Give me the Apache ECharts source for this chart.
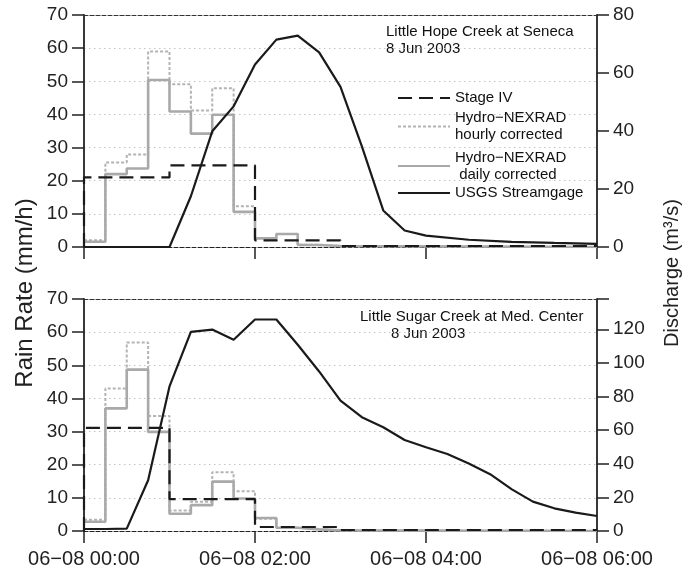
<!DOCTYPE html>
<html>
<head>
<meta charset="utf-8">
<script src="https://cdn.jsdelivr.net/npm/echarts@6/dist/echarts.min.js"></script>
<style>
html,body{margin:0;padding:0;background:#fff;}
#chart{width:688px;height:571px;}
</style>
</head>
<body>
<div id="chart"></div>
<script>
// ---------- data ----------
const xTickLabels = ['06\u221208 00:00', '06\u221208 02:00', '06\u221208 04:00', '06\u221208 06:00'];

// 15-minute Hydro-NEXRAD bins (value holds until next time)
const hydroTimes = ['00:00','00:15','00:30','00:45','01:00','01:15','01:30','01:45','02:00','02:15','02:30','02:45','03:00','06:00'];
const hourlyTop = [2.0, 25.5, 27.9, 59.0, 49.1, 41.2, 47.9, 12.3, 2.7, 3.9, 0.7, 0.3, 0, 0];
const dailyTop  = [1.6, 22.0, 23.7, 50.4, 40.9, 34.2, 39.9, 10.6, 2.6, 3.9, 0.6, 0.3, 0, 0];
const hourlyBot = [3.4, 43.0, 56.9, 34.7, 6.2, 8.8, 17.7, 12.0, 3.7, 1.0, 0.5, 0.2, 0, 0];
const dailyBot  = [2.8, 37.0, 48.7, 29.9, 5.2, 7.8, 14.9, 9.8, 3.9, 1.0, 0.5, 0.2, 0, 0];

// hourly Stage IV
const stageTimes = ['00:00','00:00','01:00','02:00','03:00','06:00'];
const stageTop = [0, 21.0, 24.6, 2.0, 0.3, 0.3];
const stageBot = [0, 31.1, 9.6, 1.2, 0.3, 0.3];

// USGS streamgage discharge (m3/s)
const gageTimesTop = ['00:00','01:00','01:15','01:30','01:45','02:00','02:15','02:30','02:45','03:00','03:15','03:30','03:45','04:00','04:30','05:00','05:30','06:00'];
const gageTop = [0, 0, 17.5, 39.9, 48.5, 62.9, 71.5, 72.9, 67.1, 55.2, 34.7, 12.6, 5.7, 3.9, 2.5, 1.8, 1.4, 1.1];
const gageTimesBot = ['00:00','00:15','00:30','00:45','01:00','01:15','01:30','01:45','02:00','02:15','02:30','02:45','03:00','03:15','03:30','03:45','04:00','04:15','04:30','04:45','05:00','05:15','05:30','05:45','06:00'];
const gageBot = [1.2, 1.2, 1.4, 30.2, 86, 118.4, 119.8, 113.8, 125.8, 125.8, 110.8, 94.9, 77.6, 67.7, 61.7, 54.1, 49.8, 45.8, 40.2, 33.8, 24.9, 17.5, 13.5, 10.9, 8.9];

const rightTicksTop = [0, 20, 40, 60, 80];
const rightTicksBot = [0, 20, 40, 60, 80, 100, 120];

const nameStage = 'Stage IV';
const nameHourly = 'Hydro\u2212NEXRAD\nhourly corrected';
const nameDaily = 'Hydro\u2212NEXRAD\n daily corrected';
const nameGage = 'USGS Streamgage';

// ---------- helpers ----------
function toMin(s){ const p = s.split(':'); return (+p[0])*60 + (+p[1]); }
function pairs(times, vals){ return times.map((t,i)=>[toMin(t), vals[i]]); }

const FONT = 'Liberation Sans, Arial, Helvetica, sans-serif';
const GRAY = '#a9a9a9';
const DARK = '#1a1a1a';

function xAxisBottom(grid, showLabels){
  return {
    type:'value', gridIndex:grid, min:0, max:360, interval:120, position:'bottom',
    axisLine:{show:true, onZero:false, lineStyle:{color:'#222', width:1, type:[4,2]}},
    axisTick:{show:true, length:12, lineStyle:{color:'#222', width:1.5}},
    axisLabel:{show:showLabels, margin:18, fontSize:20, color:'#222', fontFamily:FONT,
      formatter:(v)=>xTickLabels[Math.round(v/120)]},
    splitLine:{show:false}
  };
}
function xAxisTop(grid){
  return {
    type:'value', gridIndex:grid, min:0, max:360, position:'top',
    axisLine:{show:true, onZero:false, lineStyle:{color:'#333', width:1, type:[4,2]}},
    axisTick:{show:false}, axisLabel:{show:false}, splitLine:{show:false}
  };
}
function yLeft(grid){
  return {
    type:'value', gridIndex:grid, min:0, max:70, interval:10, position:'left',
    axisLine:{show:true, onZero:false, lineStyle:{color:'#222', width:1.8}},
    axisTick:{show:true, length:12, lineStyle:{color:'#222', width:1.5}},
    axisLabel:{margin:16, fontSize:19, color:'#222', fontFamily:FONT},
    splitLine:{show:true, lineStyle:{color:'#c4c4c4', width:1, type:[1.5,3.5]}}
  };
}
function yRight(grid, max, ticks){
  return {
    type:'value', gridIndex:grid, min:0, max:max, interval:20, position:'right',
    axisLine:{show:true, onZero:false, lineStyle:{color:'#222', width:1.8}},
    axisTick:{show:true, length:12, lineStyle:{color:'#222', width:1.5}},
    axisLabel:{margin:16, fontSize:19, color:'#222', fontFamily:FONT,
      formatter:(v)=> ticks.indexOf(v) >= 0 ? String(v) : ''},
    splitLine:{show:false}
  };
}

function stepSeries(name, xi, yi, data, color, width, type){
  return {
    name:name, type:'line', xAxisIndex:xi, yAxisIndex:yi, step:'end',
    symbol:'none', showSymbol:false, data:data,
    lineStyle:{color:color, width:width, type:type}, itemStyle:{color:color},
    emphasis:{disabled:true}
  };
}
function lineSeries(name, xi, yi, data){
  return {
    name:name, type:'line', xAxisIndex:xi, yAxisIndex:yi,
    symbol:'none', showSymbol:false, data:data,
    lineStyle:{color:DARK, width:2.2}, itemStyle:{color:DARK},
    emphasis:{disabled:true}
  };
}

function legendItem(name, top){
  return {
    data:[name], left:397, top:top, orient:'vertical', padding:0,
    itemWidth:52, itemHeight:14, selectedMode:false,
    itemStyle:{opacity:0},
    textStyle:{fontSize:15, lineHeight:17, color:'#111', fontFamily:FONT}
  };
}

const option = {
  animation:false,
  backgroundColor:'#fff',
  grid:[
    {left:84, right:91, top:15, height:232},
    {left:84, right:91, top:299, height:232}
  ],
  xAxis:[
    xAxisBottom(0,false), xAxisTop(0),
    xAxisBottom(1,true), xAxisTop(1)
  ],
  yAxis:[
    yLeft(0), yRight(0, 80, rightTicksTop),
    yLeft(1), yRight(1, 138, rightTicksBot)
  ],
  legend:[
    legendItem(nameStage, 89.5),
    legendItem(nameHourly, 109.5),
    legendItem(nameDaily, 149),
    legendItem(nameGage, 184.5)
  ],
  graphic:[
    {type:'text', left:386, top:24, style:{text:'Little Hope Creek at Seneca', font:'15px '+FONT, fill:'#111'}},
    {type:'text', left:386, top:41, style:{text:'8 Jun 2003', font:'15px '+FONT, fill:'#111'}},
    {type:'text', left:360, top:309, style:{text:'Little Sugar Creek at Med. Center', font:'15px '+FONT, fill:'#111'}},
    {type:'text', left:391, top:326, style:{text:'8 Jun 2003', font:'15px '+FONT, fill:'#111'}},
    {type:'text', x:25, y:293, rotation:Math.PI/2,
      style:{text:'Rain Rate (mm/h)', font:'24px '+FONT, fill:'#222', align:'center', verticalAlign:'middle'}},
    {type:'text', x:672, y:273, rotation:Math.PI/2,
      style:{text:'Discharge (m\u00b3/s)', font:'20px '+FONT, fill:'#222', align:'center', verticalAlign:'middle'}}
  ],
  series:[
    stepSeries(nameHourly, 0, 0, pairs(hydroTimes, hourlyTop), '#b3b3b3', 2, [3,2]),
    stepSeries(nameDaily, 0, 0, pairs(hydroTimes, dailyTop), GRAY, 2.6, 'solid'),
    stepSeries(nameStage, 0, 0, pairs(stageTimes, stageTop), DARK, 2.2, [14,7]),
    lineSeries(nameGage, 0, 1, pairs(gageTimesTop, gageTop)),

    stepSeries(nameHourly, 2, 2, pairs(hydroTimes, hourlyBot), '#b3b3b3', 2, [3,2]),
    stepSeries(nameDaily, 2, 2, pairs(hydroTimes, dailyBot), GRAY, 2.6, 'solid'),
    stepSeries(nameStage, 2, 2, pairs(stageTimes, stageBot), DARK, 2.2, [14,7]),
    lineSeries(nameGage, 2, 3, pairs(gageTimesBot, gageBot))
  ]
};

const chart = echarts.init(document.getElementById('chart'), null, {renderer:'canvas'});
chart.setOption(option);
</script>
</body>
</html>
